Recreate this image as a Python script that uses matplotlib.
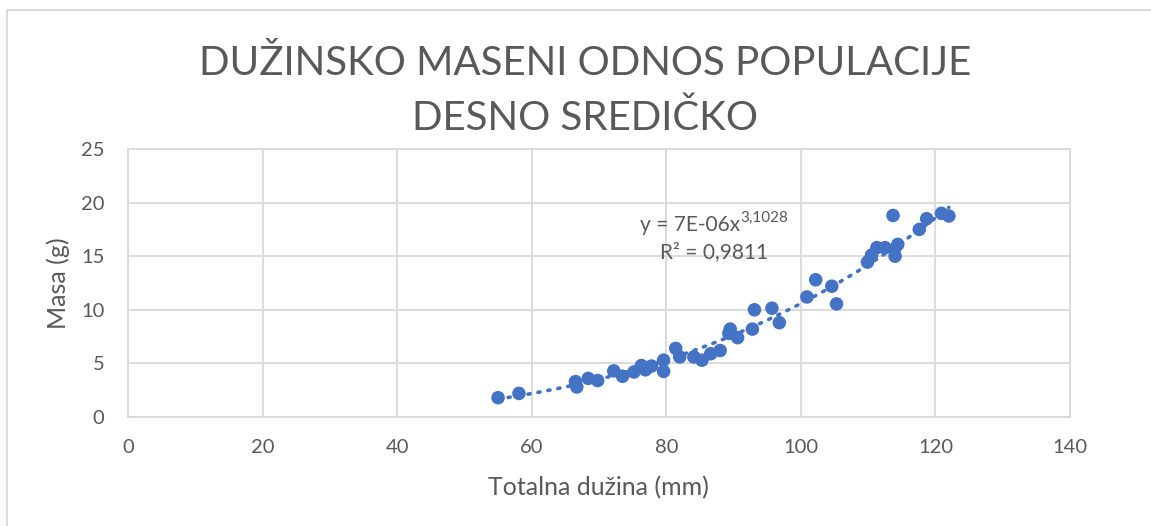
import numpy as np
import matplotlib
matplotlib.use("Agg")
import matplotlib.pyplot as plt
from matplotlib.patches import Rectangle

# ---- data ----
length_mm = [55.0, 58.1, 66.5, 66.7, 68.4, 69.8, 72.2, 73.5, 75.2, 76.3, 76.9, 77.8,
             79.6, 79.6, 81.4, 82.0, 84.1, 85.3, 86.6, 88.0, 89.5, 89.3, 90.6, 92.8,
             93.1, 95.7, 96.8, 100.9, 102.2, 104.6, 105.3, 109.9, 110.5, 111.3, 112.5,
             113.9, 114.0, 114.4, 113.7, 117.6, 118.7, 120.9, 122.0]
mass_g = [1.8, 2.2, 3.3, 2.8, 3.6, 3.4, 4.3, 3.8, 4.2, 4.8, 4.4, 4.75,
          5.3, 4.25, 6.4, 5.6, 5.6, 5.3, 5.9, 6.2, 8.2, 7.8, 7.4, 8.2,
          10.0, 10.15, 8.8, 11.2, 12.8, 12.2, 10.55, 14.45, 15.1, 15.8, 15.8,
          15.6, 15.0, 16.1, 18.8, 17.5, 18.5, 19.0, 18.75]
x_ticks = [0, 20, 40, 60, 80, 100, 120, 140]
y_ticks = [0, 5, 10, 15, 20, 25]
title_text = "DUŽINSKO MASENI ODNOS POPULACIJE\nDESNO SREDIČKO"
x_label = "Totalna dužina (mm)"
y_label = "Masa (g)"
eq_line1 = "y = 7E-06x"
eq_sup = "3,1028"
eq_line2 = "R² = 0,9811"

FONT = ["Lato", "DejaVu Sans"]
TXT = "#595959"
GRID = "#d9d9d9"
BLUE = "#4472C4"

plt.rcParams["font.family"] = FONT

W, H = 1151, 526
fig = plt.figure(figsize=(W / 100, H / 100), dpi=100)
ax = fig.add_axes([128 / W, 1 - 417 / H, (1070 - 128) / W, (417 - 149) / H])

# chart border
fig.patches.append(Rectangle((7 / W, -0.2), 1.2, 0.2 + (1 - 10 / H),
                             transform=fig.transFigure, fill=False,
                             edgecolor=GRID, linewidth=1.3))

x = np.array(length_mm)
y = np.array(mass_g)

# power trendline fitted from the data
b, ln_a = np.polyfit(np.log(x), np.log(y), 1)
xt = np.linspace(x.min(), x.max(), 200)
yt = np.exp(ln_a) * xt ** b
ax.plot(xt, yt, linestyle=(0, (0.6, 2.2)), color=BLUE, linewidth=2.6,
        dash_capstyle="round", zorder=2)

ax.scatter(x, y, s=95, color=BLUE, edgecolors="none", zorder=3)

ax.set_xlim(0, 140)
ax.set_ylim(0, 25)
ax.set_xticks(x_ticks)
ax.set_yticks(y_ticks)
ax.grid(True, color=GRID, linewidth=1.3)
ax.set_axisbelow(True)
for s in ax.spines.values():
    s.set_color(GRID)
    s.set_linewidth(1.3)
ax.tick_params(axis="y", length=0, labelsize=14.5, labelcolor=TXT, pad=17)
ax.tick_params(axis="x", length=0, labelsize=14.5, labelcolor=TXT, pad=16)

ax.set_xlabel(x_label, fontsize=18, color=TXT, va="center")
ax.set_ylabel(y_label, fontsize=18, color=TXT, va="center")
ax.xaxis.set_label_coords((598 - 128) / 942, (417 - 488) / 268)
ax.yaxis.set_label_coords((58 - 128) / 942, (417 - 283) / 268)

fig.text(585 / W, 1 - 91 / H, title_text, ha="center", va="center",
         fontsize=29, color=TXT, linespacing=1.6)

# trendline equation
EQ_FS = 15
SUP_FS = 11
fig.canvas.draw()
r = fig.canvas.get_renderer()
tmp1 = fig.text(0, 0, eq_line1, fontsize=EQ_FS)
tmp2 = fig.text(0, 0, eq_sup, fontsize=SUP_FS)
w1 = tmp1.get_window_extent(r).width
w2 = tmp2.get_window_extent(r).width
tmp1.remove()
tmp2.remove()
cx = 714
x0 = cx - (w1 + w2) / 2
base1 = H - 231
fig.text(x0 / W, base1 / H, eq_line1, fontsize=EQ_FS, color=TXT,
         ha="left", va="baseline")
fig.text((x0 + w1) / W, (base1 + 9) / H, eq_sup, fontsize=SUP_FS,
         color=TXT, ha="left", va="baseline")
fig.text(714 / W, (H - 258) / H, eq_line2, fontsize=EQ_FS, color=TXT,
         ha="center", va="baseline")

fig.savefig("out.png", dpi=100)
